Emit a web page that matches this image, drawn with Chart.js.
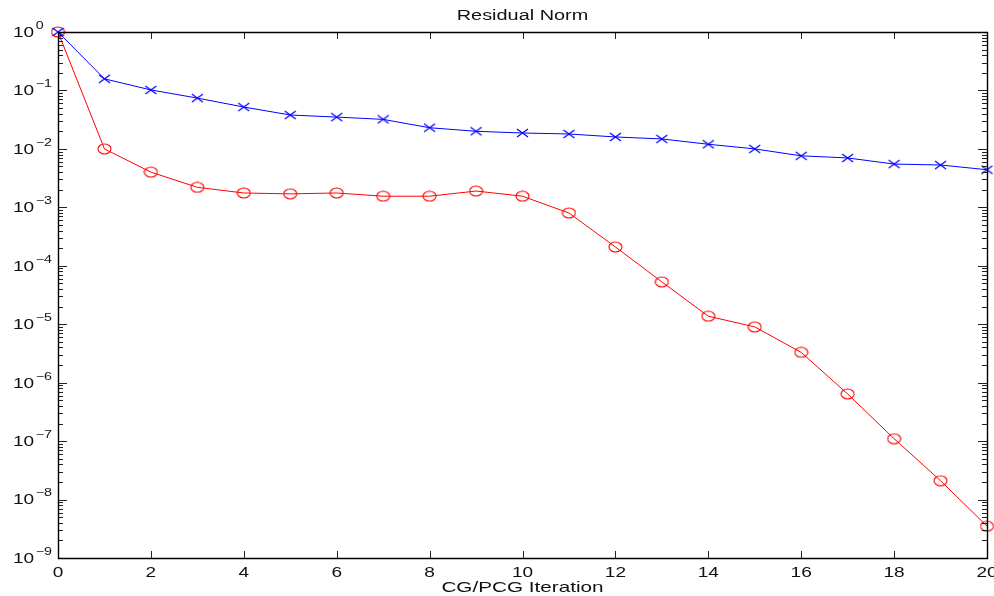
<!DOCTYPE html>
<html><head><meta charset="utf-8">
<script src="https://cdn.jsdelivr.net/npm/chart.js@4"></script>
<style>html,body{margin:0;padding:0;background:#fff}#c{display:block}</style>
</head><body>
<canvas id="c" width="994" height="596"></canvas>
<script>
const iterations = [0,1,2,3,4,5,6,7,8,9,10,11,12,13,14,15,16,17,18,19,20];
const cgResidual = [1,0.158,0.102,0.074,0.052,0.038,0.035,0.032,0.023,0.020,0.0187,0.018,0.016,0.0148,0.012,0.010,0.0076,0.007,0.0055,0.0053,0.0044];
const pcgResidual = [1,0.010,0.0040,0.0022,0.00176,0.0017,0.00176,0.00155,0.00155,0.0019,0.00155,0.0008,0.00021,0.000053,0.0000137,0.000009,0.0000033,0.00000064,0.00000011,0.000000021,0.0000000035];
const xTicks = [0,2,4,6,8,10,12,14,16,18,20];
const yExponents = [0,-1,-2,-3,-4,-5,-6,-7,-8,-9];
const titleText = "Residual Norm";
const xLabelText = "CG/PCG Iteration";

function makeEllipse(w,h,color){
  const c=document.createElement('canvas'); c.width=w+2; c.height=h+2;
  const g=c.getContext('2d'); g.strokeStyle=color; g.lineWidth=1.1;
  g.beginPath(); g.ellipse((w+2)/2,(h+2)/2,w/2,h/2,0,0,Math.PI*2); g.stroke(); return c;
}
function makeX(w,h,color){
  const c=document.createElement('canvas'); c.width=w+2; c.height=h+2;
  const g=c.getContext('2d'); g.strokeStyle=color; g.lineWidth=1.2;
  g.beginPath(); g.moveTo(1,1); g.lineTo(w+1,h+1); g.moveTo(w+1,1); g.lineTo(1,h+1); g.stroke(); return c;
}
const circ = makeEllipse(13,10,'#ff0000');
const cross = makeX(11,8,'#0000ff');

const FONT = '"Liberation Sans", Arial, Helvetica, sans-serif';
const SX = 1.36;
function txt(ctx,s,x,y,size,align,sx){
  ctx.save(); ctx.font=size+'px '+FONT; ctx.textAlign=align; ctx.textBaseline='middle';
  ctx.translate(x,y); ctx.scale(sx||SX,1); ctx.fillText(s,0,0); ctx.restore();
}
function tw(ctx,s,size,sx){ ctx.save(); ctx.font=size+'px '+FONT; const w=ctx.measureText(s).width*(sx||SX); ctx.restore(); return w; }

const axesPlugin = {
  id:'matlabAxes',
  afterDatasetsDraw(chart){
    const ctx=chart.ctx, a=chart.chartArea, xs=chart.scales.x, ys=chart.scales.y;
    ctx.save();
    ctx.strokeStyle='#222'; ctx.lineWidth=1;
    ctx.beginPath();
    xTicks.forEach(v=>{const px=Math.round(xs.getPixelForValue(v))+0.5;
      ctx.moveTo(px,a.bottom); ctx.lineTo(px,a.bottom-7);
      ctx.moveTo(px,a.top); ctx.lineTo(px,a.top+7);});
    yExponents.forEach(e=>{
      const py=Math.round(ys.getPixelForValue(Math.pow(10,e)))+0.5;
      ctx.moveTo(a.left,py); ctx.lineTo(a.left+9,py);
      ctx.moveTo(a.right,py); ctx.lineTo(a.right-9,py);
      if(e>-9){ for(let m=2;m<=9;m++){
        const q=Math.round(ys.getPixelForValue(m*Math.pow(10,e-1)))+0.5;
        ctx.moveTo(a.left,q); ctx.lineTo(a.left+5,q);
        ctx.moveTo(a.right,q); ctx.lineTo(a.right-5,q);}}
    });
    ctx.stroke();
    ctx.beginPath(); ctx.strokeStyle='#000'; ctx.lineWidth=1.4;
    ctx.rect(Math.round(a.left)+0.5,Math.round(a.top)+0.5,Math.round(a.right-a.left),Math.round(a.bottom-a.top));
    ctx.stroke();
    ctx.fillStyle='#111';
    xTicks.forEach(v=>txt(ctx,String(v), xs.getPixelForValue(v), a.bottom+15, 14, 'center'));
    yExponents.forEach(e=>{
      const py=ys.getPixelForValue(Math.pow(10,e));
      const exp = e===0 ? '0' : '\u2212'+Math.abs(e);
      const bx=13; const bw=tw(ctx,'10',14);
      txt(ctx,'10',bx,py+1,14,'left');
      txt(ctx,exp,bx+bw+1.5,py-6,10.5,'left');
    });
    txt(ctx,titleText,(a.left+a.right)/2,16,14,'center',1.42);
    txt(ctx,xLabelText,(a.left+a.right)/2,588,15,'center',1.38);
    ctx.restore();
  }
};

new Chart(document.getElementById('c'),{
  type:'line',
  data:{ labels:iterations, datasets:[
    {label:'CG', data:iterations.map((x,i)=>({x:x,y:cgResidual[i]})), borderColor:'#0000ff', borderWidth:1, pointStyle:cross, pointRadius:5, tension:0, clip:false},
    {label:'PCG', data:iterations.map((x,i)=>({x:x,y:pcgResidual[i]})), borderColor:'#ff0000', borderWidth:1, pointStyle:circ, pointRadius:6, tension:0, clip:false}
  ]},
  options:{
    responsive:false, animation:false, devicePixelRatio:1,
    layout:{padding:{left:58,right:7,top:32,bottom:38}},
    plugins:{legend:{display:false},tooltip:{enabled:false},title:{display:false}},
    scales:{
      x:{type:'linear',min:0,max:20,display:false},
      y:{type:'logarithmic',min:1e-9,max:1,display:false}
    }
  },
  plugins:[axesPlugin]
});
</script>
</body></html>
